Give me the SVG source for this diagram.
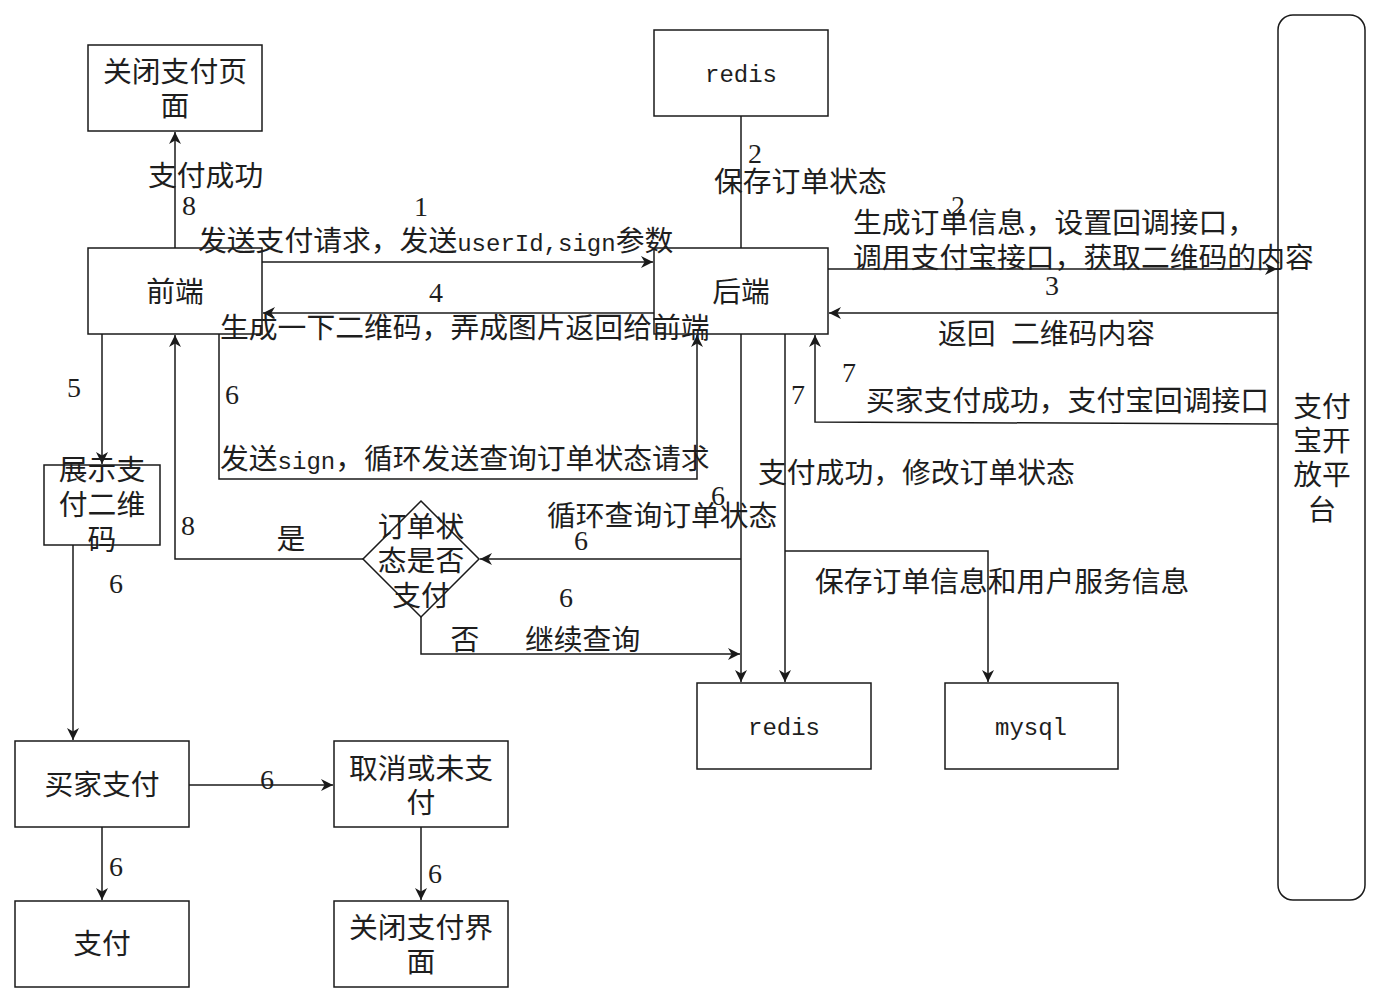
<svg xmlns="http://www.w3.org/2000/svg" width="1382" height="1003" viewBox="0 0 1382 1003">
<style>
.box{fill:#fff;stroke:#1a1a1a;stroke-width:1.5}
.t{font-family:"Noto Sans CJK SC","Noto Sans",sans-serif;font-size:28.8px;fill:#1e1e1e}
.c{text-anchor:middle}
.m{font-family:"Liberation Mono",monospace;font-size:24px}
.d{font-family:"Liberation Serif",serif;font-size:28px;fill:#1e1e1e;text-anchor:middle}
.e{fill:none;stroke:#1a1a1a;stroke-width:1.5}
</style>
<defs>
<marker id="a" viewBox="0 0 10 10" refX="10" refY="5" markerUnits="userSpaceOnUse" markerWidth="14" markerHeight="12" orient="auto">
<path d="M0,0 L10,5 L0,10 L3,5 z" fill="#1a1a1a"/>
</marker>
</defs>
<rect width="1382" height="1003" fill="#fff"/>
<g id="connectors">
<path class="e" d="M175,248 V132" marker-end="url(#a)"/>
<path class="e" d="M262,262 H653" marker-end="url(#a)"/>
<path class="e" d="M654,313 H263" marker-end="url(#a)"/>
<path class="e" d="M741,116 V248"/>
<path class="e" d="M828,269 H1277" marker-end="url(#a)"/>
<path class="e" d="M1278,313 H829" marker-end="url(#a)"/>
<path class="e" d="M1278,424 L815,422 V335" marker-end="url(#a)"/>
<path class="e" d="M102,334 V464" marker-end="url(#a)"/>
<path class="e" d="M219,334 V479 H697 V335" marker-end="url(#a)"/>
<path class="e" d="M741,559 H480" marker-end="url(#a)"/>
<path class="e" d="M741,334 V682" marker-end="url(#a)"/>
<path class="e" d="M363,559 H175 V335" marker-end="url(#a)"/>
<path class="e" d="M421,617 V654 H740" marker-end="url(#a)"/>
<path class="e" d="M785,334 V682" marker-end="url(#a)"/>
<path class="e" d="M785,551 H988 V682" marker-end="url(#a)"/>
<path class="e" d="M73,545 V740" marker-end="url(#a)"/>
<path class="e" d="M189,785 H333" marker-end="url(#a)"/>
<path class="e" d="M102,827 V900" marker-end="url(#a)"/>
<path class="e" d="M421,827 V900" marker-end="url(#a)"/>
</g>
<g id="n-close-page">
<rect class="box" x="88" y="45" width="174" height="86"/>
<text class="t c" x="175" y="82">关闭支付页</text>
<text class="t c" x="175" y="116">面</text>
</g>
<g id="n-redis-top">
<rect class="box" x="654" y="30" width="174" height="86"/>
<text class="t c m" x="741" y="82">redis</text>
</g>
<g id="n-frontend">
<rect class="box" x="88" y="248" width="174" height="86"/>
<text class="t c" x="175" y="302">前端</text>
</g>
<g id="n-backend">
<rect class="box" x="654" y="248" width="174" height="86"/>
<text class="t c" x="741" y="302">后端</text>
</g>
<g id="n-alipay">
<rect class="box" x="1278" y="15" width="87" height="885" rx="15" ry="15"/>
<text class="t c" x="1322" y="417">支付</text>
<text class="t c" x="1322" y="451">宝开</text>
<text class="t c" x="1322" y="485">放平</text>
<text class="t c" x="1322" y="520">台</text>
</g>
<g id="n-show-qr">
<rect class="box" x="44" y="465" width="116" height="80"/>
<text class="t c" x="102" y="480">展示支</text>
<text class="t c" x="102" y="515">付二维</text>
<text class="t c" x="102" y="550">码</text>
</g>
<g id="n-decision">
<path class="box" d="M421,501 L479,559 L421,617 L363,559 Z"/>
<text class="t c" x="421" y="537">订单状</text>
<text class="t c" x="421" y="571">态是否</text>
<text class="t c" x="421" y="606">支付</text>
</g>
<g id="n-redis-bottom">
<rect class="box" x="697" y="683" width="174" height="86"/>
<text class="t c m" x="784" y="735">redis</text>
</g>
<g id="n-mysql">
<rect class="box" x="945" y="683" width="173" height="86"/>
<text class="t c m" x="1031" y="735">mysql</text>
</g>
<g id="n-buyer-pay">
<rect class="box" x="15" y="741" width="174" height="86"/>
<text class="t c" x="102" y="795">买家支付</text>
</g>
<g id="n-cancel">
<rect class="box" x="334" y="741" width="174" height="86"/>
<text class="t c" x="421" y="779">取消或未支</text>
<text class="t c" x="421" y="813">付</text>
</g>
<g id="n-pay">
<rect class="box" x="15" y="901" width="174" height="86"/>
<text class="t c" x="102" y="954">支付</text>
</g>
<g id="n-close-ui">
<rect class="box" x="334" y="901" width="174" height="86"/>
<text class="t c" x="421" y="938">关闭支付界</text>
<text class="t c" x="421" y="972">面</text>
</g>
<g id="labels">
<text class="t" x="148" y="186">支付成功</text>
<text class="d" x="189" y="215">8</text>
<text class="d" x="421" y="216">1</text>
<text class="t" x="198" y="251">发送支付请求，发送<tspan class="m">userId,sign</tspan>参数</text>
<text class="d" x="436" y="302">4</text>
<text class="t" x="220" y="338">生成一下二维码，弄成图片返回给前端</text>
<text class="d" x="755" y="163">2</text>
<text class="t" x="714" y="192">保存订单状态</text>
<text class="d" x="958" y="215">2</text>
<text class="t" x="853" y="233">生成订单信息，设置回调接口，</text>
<text class="t" x="853" y="268">调用支付宝接口，获取二维码的内容</text>
<text class="d" x="1052" y="295">3</text>
<text class="t" x="938" y="344">返回</text>
<text class="t" x="1011" y="344">二维码内容</text>
<text class="d" x="849" y="382">7</text>
<text class="d" x="798" y="404">7</text>
<text class="t" x="866" y="411">买家支付成功，支付宝回调接口</text>
<text class="d" x="74" y="397">5</text>
<text class="d" x="232" y="404">6</text>
<text class="t" x="220" y="469">发送<tspan class="m">sign</tspan>，循环发送查询订单状态请求</text>
<text class="t" x="758" y="483">支付成功，修改订单状态</text>
<text class="d" x="718" y="505">6</text>
<text class="t" x="547" y="526">循环查询订单状态</text>
<text class="d" x="581" y="550">6</text>
<text class="d" x="188" y="535">8</text>
<text class="t c" x="291" y="549">是</text>
<text class="t" x="815" y="592">保存订单信息和用户服务信息</text>
<text class="d" x="116" y="593">6</text>
<text class="d" x="566" y="607">6</text>
<text class="t c" x="465" y="650">否</text>
<text class="t" x="525" y="650">继续查询</text>
<text class="d" x="267" y="789">6</text>
<text class="d" x="116" y="876">6</text>
<text class="d" x="435" y="883">6</text>
</g>
</svg>
